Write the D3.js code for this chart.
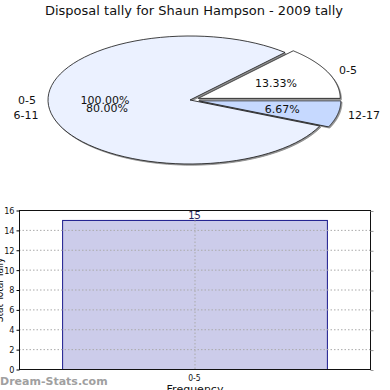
<!DOCTYPE html>
<html>
<head>
<meta charset="utf-8">
<script src="https://cdn.jsdelivr.net/npm/d3@7"></script>
<style>
  body { margin: 0; background: #fff; }
  svg { display: block; }
</style>
</head>
<body>
<div id="chart"></div>
<script>
// pie data (counts out of 15 disposals)
const pieLabels = ["0-5", "6-11", "12-17"];
const pieValues = [2, 12, 1];
const pieColors = ["#ffffff", "#ebf1ff", "#c6d9ff"];
const pieExplode = [1, 0, 1];
// stray overlapping label pair shown on the left in the original
const strayLabel = "0-5";
const strayPercent = "100.00%";

// bar data
const barCategories = ["0-5"];
const barValues = [15];
const yTicks = [0, 2, 4, 6, 8, 10, 12, 14, 16];

const width = 390, height = 390;
const svg = d3.select("#chart").append("svg")
    .attr("width", width)
    .attr("height", height)
    .style("font-family", "DejaVu Sans");

// Title
svg.append("text")
    .attr("x", 194)
    .attr("y", 15)
    .attr("text-anchor", "middle")
    .attr("font-size", "13px")
    .attr("fill", "#111")
    .text("Disposal tally for Shaun Hampson - 2009 tally");

// ---- Pie (elliptical) ----
const cx = 190, cy = 100, rx = 142, ry = 64;
const total = d3.sum(pieValues);
// angles counterclockwise from 3 o'clock
const pie = d3.pie().sort(null).startAngle(0).endAngle(2 * Math.PI)(pieValues);

function slicePath(a0, a1, dx, dy) {
    const steps = 80;
    const pts = [[cx + dx, cy + dy]];
    for (let i = 0; i <= steps; i++) {
        const a = a0 + (a1 - a0) * i / steps;
        pts.push([cx + dx + rx * Math.cos(a), cy + dy - ry * Math.sin(a)]);
    }
    return d3.line()(pts) + "Z";
}

const gp = svg.append("g");
pie.forEach((d, i) => {
    const mid = (d.startAngle + d.endAngle) / 2;
    const dx = pieExplode[i] * 9 * Math.cos(mid);
    const dy = -pieExplode[i] * 4 * Math.sin(mid);
    d.dx = dx; d.dy = dy; d.mid = mid;
    // shadow
    gp.append("path")
        .attr("d", slicePath(d.startAngle, d.endAngle, dx + 1.2, dy + 1.2))
        .attr("fill", "#666")
        .attr("fill-opacity", 0.7)
        .attr("stroke", "#888")
        .attr("stroke-width", 0.8);
});
pie.forEach((d, i) => {
    gp.append("path")
        .attr("d", slicePath(d.startAngle, d.endAngle, d.dx, d.dy))
        .attr("fill", pieColors[i])
        .attr("stroke", "#111")
        .attr("stroke-width", 0.8);
});

// percent labels inside slices
const pctPos = [[276, 86], [107, 112], [282, 111]];
pie.forEach((d, i) => {
    const a = d.mid;
    const lx = i === 1 ? pctPos[1][0] : cx + d.dx + rx * 0.6 * Math.cos(a);
    const ly = i === 1 ? pctPos[1][1] : cy + d.dy - ry * 0.6 * Math.sin(a) + 4;
    gp.append("text")
        .attr("x", lx)
        .attr("y", ly)
        .attr("text-anchor", "middle")
        .attr("font-size", "11px")
        .attr("fill", "#111")
        .text((d.value / total * 100).toFixed(2) + "%");
});
gp.append("text")
    .attr("x", 105).attr("y", 104)
    .attr("text-anchor", "middle")
    .attr("font-size", "11px").attr("fill", "#111")
    .text(strayPercent);

// outside category labels
const catPos = [[348, 74], [26, 119], [364, 119]];
pie.forEach((d, i) => {
    gp.append("text")
        .attr("x", catPos[i][0])
        .attr("y", catPos[i][1])
        .attr("text-anchor", "middle")
        .attr("font-size", "11px")
        .attr("fill", "#111")
        .text(pieLabels[i]);
});
gp.append("text")
    .attr("x", 27).attr("y", 104)
    .attr("text-anchor", "middle")
    .attr("font-size", "11px").attr("fill", "#111")
    .text(strayLabel);

// ---- Bar chart ----
const plotLeft = 19, plotRight = 370, plotTop = 210, plotBottom = 369;
const x = d3.scaleBand().domain(barCategories).range([plotLeft, plotRight]).padding(0.14);
const y = d3.scaleLinear().domain([0, 16]).range([plotBottom, plotTop]);

const gb = svg.append("g").style("font-family", "'DejaVu Sans Condensed', 'DejaVu Sans'");

// bars
gb.selectAll(".bar")
    .data(barValues)
    .join("rect")
    .attr("x", (d, i) => x(barCategories[i]) + 0.5)
    .attr("y", d => y(d) + 0.5)
    .attr("width", x.bandwidth())
    .attr("height", d => y(0) - y(d))
    .attr("fill", "#ccccea")
    .attr("stroke", "#1a1a8c")
    .attr("stroke-width", 1);

// horizontal dotted grid
gb.selectAll(".hgrid")
    .data(yTicks.filter(t => t > 0 && t < 16))
    .join("line")
    .attr("x1", plotLeft).attr("x2", plotRight)
    .attr("y1", d => y(d) + 0.5).attr("y2", d => y(d) + 0.5)
    .attr("stroke", "#aaa")
    .attr("stroke-dasharray", "1.5,2");

// vertical dotted grid at category centre
gb.selectAll(".vgrid")
    .data(barCategories)
    .join("line")
    .attr("x1", d => x(d) + x.bandwidth() / 2 + 0.5)
    .attr("x2", d => x(d) + x.bandwidth() / 2 + 0.5)
    .attr("y1", plotTop).attr("y2", plotBottom)
    .attr("stroke", "#aaa")
    .attr("stroke-dasharray", "1.5,2");

// value labels
gb.selectAll(".val")
    .data(barValues)
    .join("text")
    .attr("x", (d, i) => x(barCategories[i]) + x.bandwidth() / 2)
    .attr("y", d => y(d) - 1)
    .attr("text-anchor", "middle")
    .attr("font-size", "11px")
    .attr("fill", "#22225a")
    .text(d => d);

// frame
gb.append("rect")
    .attr("x", plotLeft + 0.5).attr("y", plotTop + 0.5)
    .attr("width", plotRight - plotLeft).attr("height", plotBottom - plotTop)
    .attr("fill", "none")
    .attr("stroke", "#111")
    .attr("stroke-width", 1);

// left axis
const yAxis = d3.axisLeft(y).tickValues(yTicks).tickSize(3).tickPadding(2);
gb.append("g")
    .attr("transform", `translate(${plotLeft + 0.5},0.5)`)
    .call(yAxis)
    .call(g => g.select(".domain").remove())
    .call(g => g.selectAll("text").attr("font-size", "9px").attr("fill", "#111").style("font-family", "'DejaVu Sans Condensed', 'DejaVu Sans'"));

// right ticks
gb.selectAll(".rtick")
    .data(yTicks)
    .join("line")
    .attr("x1", plotRight + 0.5).attr("x2", plotRight + 3.5)
    .attr("y1", d => y(d) + 1.5).attr("y2", d => y(d) + 1.5)
    .attr("stroke", "#999");

// bottom axis
const xAxis = d3.axisBottom(x).tickSize(0).tickPadding(6);
gb.append("g")
    .attr("transform", `translate(0,${plotBottom})`)
    .call(xAxis)
    .call(g => g.select(".domain").remove())
    .call(g => g.selectAll("text").attr("font-size", "8.5px").attr("fill", "#111").style("font-family", "'DejaVu Sans Condensed', 'DejaVu Sans'"));

// axis titles
gb.append("text")
    .attr("x", 195).attr("y", 393)
    .attr("text-anchor", "middle")
    .attr("font-size", "11px").attr("fill", "#111")
    .style("font-family", "DejaVu Sans")
    .text("Frequency");

gb.append("text")
    .attr("transform", `translate(2.5,290) rotate(-90)`)
    .attr("text-anchor", "middle")
    .attr("font-size", "10px").attr("fill", "#111")
    .text("Stat Total Tally");

// watermark
svg.append("text")
    .attr("x", 0).attr("y", 385)
    .attr("font-size", "11px")
    .attr("font-weight", "bold")
    .attr("fill", "#a0a0a0")
    .style("font-family", "DejaVu Sans")
    .text("Dream-Stats.com");
</script>
</body>
</html>
